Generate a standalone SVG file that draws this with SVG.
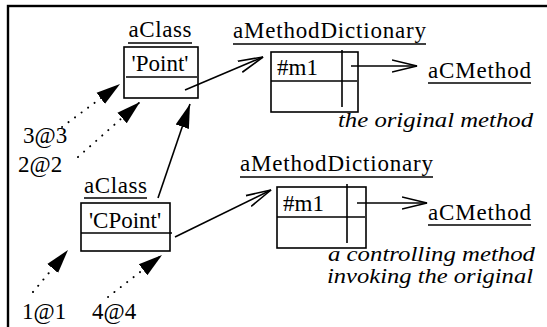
<svg xmlns="http://www.w3.org/2000/svg" width="547" height="327" viewBox="0 0 547 327">
<style>
text{font-family:'Liberation Serif','Times New Roman',serif;font-size:23px;fill:#000}
.it{font-style:italic;font-size:21px}
.box{fill:none;stroke:#000;stroke-width:1.6}
.ln{stroke:#000;stroke-width:1.6;fill:none}
.ul{stroke:#000;stroke-width:1.4}
.dot{stroke:#000;stroke-width:2;stroke-linecap:round;stroke-dasharray:0.1 8;fill:none}
</style>
<defs>
<marker id="open" markerUnits="userSpaceOnUse" markerWidth="30" markerHeight="20" refX="25" refY="7" orient="auto" viewBox="0 0 30 14">
<path d="M0,1 L25,7 L0,13" fill="none" stroke="#000" stroke-width="1.6"/>
</marker>
<marker id="fill" markerUnits="userSpaceOnUse" markerWidth="26" markerHeight="16" refX="24" refY="7" orient="auto" viewBox="0 0 26 14">
<path d="M0,0 L24,7 L0,14 Z" fill="#000"/>
</marker>
</defs>
<rect x="8" y="6" width="560" height="340" fill="none" stroke="#000" stroke-width="2.4"/>

<g id="class1">
<text x="160" y="37" text-anchor="middle" textLength="63">aClass</text>
<line class="ul" x1="128" y1="43" x2="192" y2="43"/>
<rect class="box" x="124" y="47" width="74" height="51"/>
<text x="160" y="71" text-anchor="middle">'Point'</text>
<line class="ul" x1="126" y1="77" x2="197" y2="77"/>
</g>

<g id="dict1">
<text x="233" y="38" textLength="193">aMethodDictionary</text>
<line class="ul" x1="233" y1="44" x2="426" y2="44"/>
<rect class="box" x="271" y="52" width="87" height="60"/>
<line class="ln" x1="271" y1="81" x2="357" y2="81"/>
<line class="ln" x1="342" y1="50" x2="342" y2="107"/>
<text x="277" y="75">#m1</text>
</g>

<g id="method1">
<text x="428" y="78" textLength="103">aCMethod</text>
<line class="ul" x1="428" y1="83" x2="531" y2="83"/>
<text class="it" x="338" y="127" textLength="195" lengthAdjust="spacingAndGlyphs">the original method</text>
</g>

<g id="class2">
<text x="84" y="193" textLength="63">aClass</text>
<line class="ul" x1="84" y1="198" x2="147" y2="198"/>
<rect class="box" x="81" y="203" width="89" height="48"/>
<text x="125" y="228" text-anchor="middle">'CPoint'</text>
<line class="ul" x1="81" y1="233" x2="172" y2="233"/>
</g>

<g id="dict2">
<text x="240" y="171" textLength="193">aMethodDictionary</text>
<line class="ul" x1="240" y1="177" x2="433" y2="177"/>
<rect class="box" x="277" y="187" width="89" height="61"/>
<line class="ln" x1="277" y1="217" x2="365" y2="217"/>
<line class="ln" x1="347" y1="184" x2="347" y2="243"/>
<text x="283" y="211">#m1</text>
</g>

<g id="method2">
<text x="428" y="220" textLength="103">aCMethod</text>
<line class="ul" x1="428" y1="225" x2="531" y2="225"/>
<text class="it" x="328" y="261" textLength="207" lengthAdjust="spacingAndGlyphs">a controlling method</text>
<text class="it" x="327" y="283" textLength="206" lengthAdjust="spacingAndGlyphs">invoking the original</text>
</g>

<g id="points">
<text x="23" y="143">3@3</text>
<text x="18" y="172">2@2</text>
<text x="22" y="319">1@1</text>
<text x="92" y="319">4@4</text>
</g>

<g id="connectors">
<line class="ln" x1="185" y1="90" x2="263" y2="57" marker-end="url(#open)"/>
<line class="ln" x1="351" y1="66" x2="417" y2="66" marker-end="url(#open)"/>
<line class="ln" x1="175" y1="237" x2="271" y2="190" marker-end="url(#open)"/>
<line class="ln" x1="357" y1="203" x2="427" y2="203" marker-end="url(#open)"/>
<line class="ln" x1="158" y1="198" x2="190" y2="104" marker-end="url(#fill)"/>
<line class="dot" x1="62" y1="127" x2="120" y2="84" marker-end="url(#fill)"/>
<line class="dot" x1="78" y1="157" x2="140" y2="102" marker-end="url(#fill)"/>
<line class="dot" x1="33" y1="292" x2="68" y2="250" marker-end="url(#fill)"/>
<line class="dot" x1="108" y1="297" x2="162" y2="255" marker-end="url(#fill)"/>
</g>
</svg>
